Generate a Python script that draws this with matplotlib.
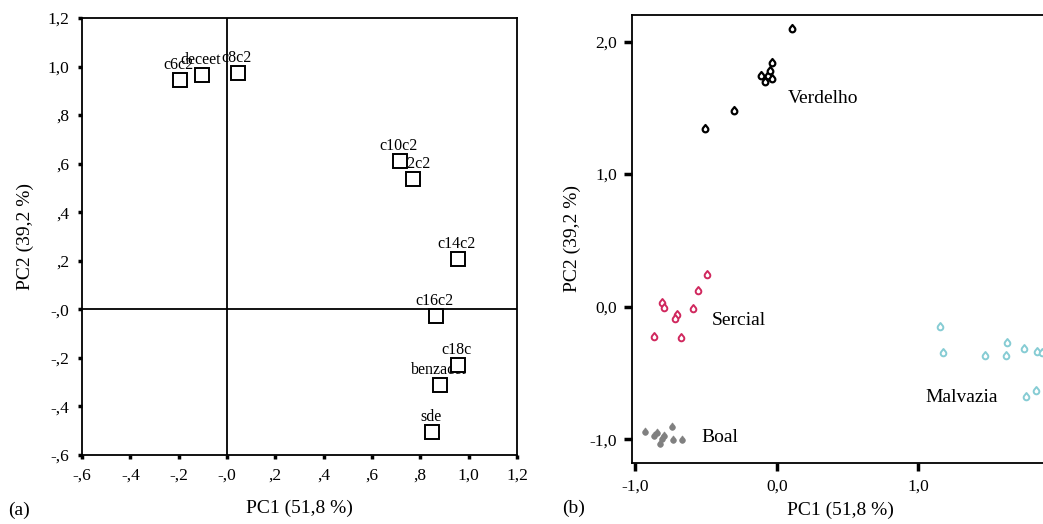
import matplotlib
matplotlib.use("Agg")
import matplotlib.pyplot as plt
import numpy as np
from matplotlib.path import Path

plt.rcParams['font.family'] = ['Liberation Serif', 'DejaVu Serif']

# ---------------- Data: panel (a) loadings ----------------
load_names = ["c6c2", "deceet", "c8c2", "c10c2", "c12c2", "c14c2",
              "c16c2", "c18c", "benzacet", "sde"]
load_pc1 = [-0.195, -0.103, 0.047, 0.716, 0.771, 0.954, 0.865, 0.954, 0.882, 0.848]
load_pc2 = [0.944, 0.967, 0.974, 0.613, 0.538, 0.209, -0.027, -0.230, -0.313, -0.507]

a_ticks = [-0.6, -0.4, -0.2, 0.0, 0.2, 0.4, 0.6, 0.8, 1.0, 1.2]
a_ticklabels = ["-,6", "-,4", "-,2", "-,0", ",2", ",4", ",6", ",8", "1,0", "1,2"]

# ---------------- Data: panel (b) scores ----------------
verdelho_pc1 = [0.106, -0.035, -0.113, -0.083, -0.059, -0.035, -0.047, -0.301, -0.506]
verdelho_pc2 = [2.096, 1.836, 1.743, 1.693, 1.743, 1.718, 1.780, 1.479, 1.341]

sercial_pc1 = [-0.490, -0.560, -0.812, -0.800, -0.593, -0.706, -0.718, -0.866, -0.678]
sercial_pc2 = [0.242, 0.121, 0.025, -0.010, -0.018, -0.060, -0.093, -0.231, -0.239]

boal_pc1 = [-0.930, -0.871, -0.843, -0.812, -0.824, -0.800, -0.737, -0.730, -0.670]
boal_pc2 = [-0.948, -0.974, -0.956, -0.998, -1.036, -0.974, -0.906, -1.006, -1.006]

malvazia_pc1 = [1.152, 1.176, 1.470, 1.618, 1.628, 1.745, 1.839, 1.759, 1.830, 1.870]
malvazia_pc2 = [-0.156, -0.350, -0.370, -0.370, -0.274, -0.320, -0.345, -0.684, -0.634, -0.350]

b_xticks = [-1.0, 0.0, 1.0]
b_xticklabels = ["-1,0", "0,0", "1,0"]
b_yticks = [-1.0, 0.0, 1.0, 2.0]
b_yticklabels = ["-1,0", "0,0", "1,0", "2,0"]

groups = [
    ("Verdelho", verdelho_pc1, verdelho_pc2, (0.08, 1.57)),
    ("Sercial", sercial_pc1, sercial_pc2, (-0.457, -0.106)),
    ("Boal", boal_pc1, boal_pc2, (-0.534, -0.986)),
    ("Malvazia", malvazia_pc1, malvazia_pc2, (1.046, -0.684)),
]
group_style = {
    "Verdelho": dict(mfc="white", mec="black", mew=1.6),
    "Sercial": dict(mfc="white", mec="#d0285e", mew=1.4),
    "Boal": dict(mfc="#808080", mec="#808080", mew=0.5),
    "Malvazia": dict(mfc="white", mec="#86ccd4", mew=1.4),
}

# teardrop marker shape
t = np.linspace(-np.pi / 2 - 2.3, -np.pi / 2 + 2.3, 30)
verts = [(0.0, 1.6)] + [(np.cos(a), np.sin(a)) for a in t[::-1]] + [(0.0, 1.6)]
drop = Path(verts, closed=True)

fig = plt.figure(figsize=(10.43, 5.24), dpi=100)

# ---------------- Panel (a) ----------------
W, H = 1043.0, 524.0
axa = fig.add_axes([82 / W, 1 - 455 / H, (517 - 82) / W, (455 - 18) / H])
axa.set_xlim(-0.6, 1.2)
axa.set_ylim(-0.6, 1.2)
axa.axvline(0, color="black", lw=1.3, zorder=1)
axa.axhline(0, color="black", lw=1.3, zorder=1)
axa.plot(load_pc1, load_pc2, ls="none", marker="s", ms=9.5, mfc="white",
         mec="black", mew=1.4, zorder=3)
for n, x, y in zip(load_names, load_pc1, load_pc2):
    axa.annotate(n, (x, y), xytext=(-1, 5), textcoords="offset points",
                 ha="center", va="bottom", fontsize=11.5, zorder=2)
axa.set_xticks(a_ticks)
axa.set_xticklabels(a_ticklabels)
axa.set_yticks(a_ticks)
axa.set_yticklabels(a_ticklabels)
axa.tick_params(direction="out", length=3, width=2.5, labelsize=12.5, pad=6)
for s in axa.spines.values():
    s.set_linewidth(1.3)
axa.set_xlabel("PC1 (51,8 %)", fontsize=14, labelpad=12)
axa.set_ylabel("PC2 (39,2 %)", fontsize=14, labelpad=10)

# ---------------- Panel (b) ----------------
axb = fig.add_axes([632 / W, 1 - 463 / H, (1048 - 632) / W, (463 - 15) / H])
axb.set_xlim(-1.023, 1.915)
axb.set_ylim(-1.18, 2.2)
for name, xs, ys, (lx, ly) in groups:
    axb.plot(xs, ys, ls="none", marker=drop, ms=6.5, clip_on=False,
             **group_style[name])
    axb.text(lx, ly, name, fontsize=14, ha="left", va="center")
axb.set_xticks(b_xticks)
axb.set_xticklabels(b_xticklabels)
axb.set_yticks(b_yticks)
axb.set_yticklabels(b_yticklabels)
axb.tick_params(direction="out", length=6, width=2.5, labelsize=12.5, pad=5)
axb.spines["right"].set_visible(False)
for s in ["left", "bottom", "top"]:
    axb.spines[s].set_linewidth(1.3)
axb.set_xlabel("PC1 (51,8 %)", fontsize=14, labelpad=5)
axb.set_ylabel("PC2 (39,2 %)", fontsize=14, labelpad=6)

fig.text(8 / W, 1 - 510 / H, "(a)", fontsize=14, ha="left", va="center")
fig.text(562 / W, 1 - 508 / H, "(b)", fontsize=14, ha="left", va="center")

fig.savefig("out.png", dpi=100)
